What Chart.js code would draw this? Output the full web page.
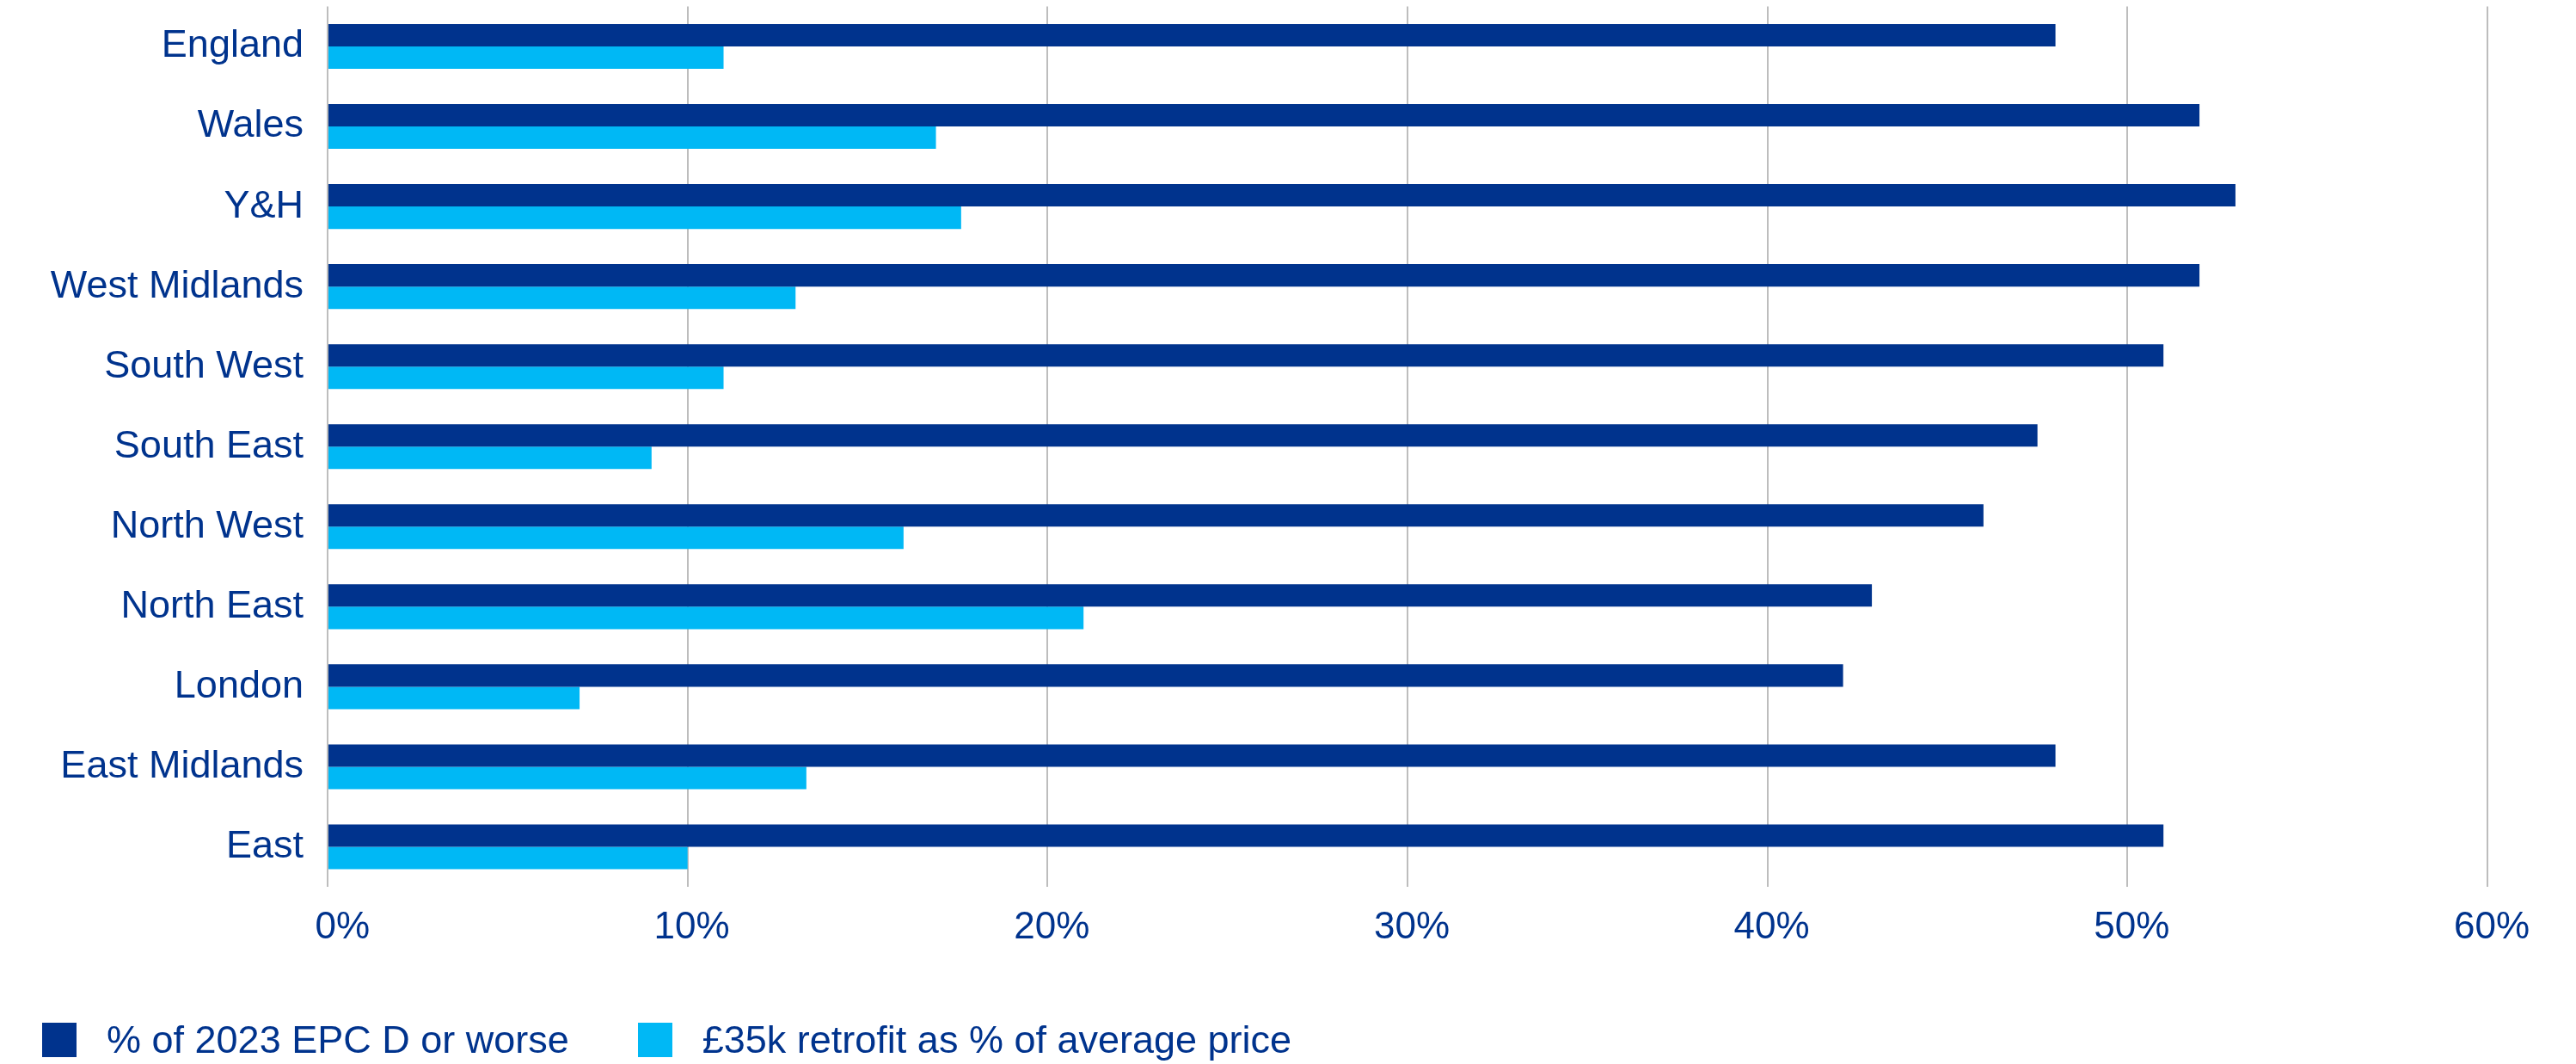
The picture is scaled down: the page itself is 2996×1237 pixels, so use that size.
<!DOCTYPE html>
<html>
<head>
<meta charset="utf-8">
<script src="https://cdn.jsdelivr.net/npm/chart.js@4.4.1/dist/chart.umd.min.js"></script>
<style>
  html, body { margin: 0; padding: 0; background: #ffffff; overflow: hidden; }
  #wrap { position: relative; width: 2996px; height: 1237px; }
  #c { position: absolute; left: 0; top: 0; }
  #legend { position: absolute; left: 49px; top: 1183px; display: flex; gap: 80px;
            font-family: 'Liberation Sans', Arial, sans-serif; font-size: 45px; color: #00338D; }
  .item { display: flex; align-items: center; }
  .sw { width: 40px; height: 40px; margin-right: 35px; }
</style>
</head>
<body>
<div id="wrap">
  <canvas id="c" width="2996" height="1237"></canvas>
  <div id="legend"></div>
</div>
<script>
const categories = ['England', 'Wales', 'Y&H', 'West Midlands', 'South West', 'South East',
                    'North West', 'North East', 'London', 'East Midlands', 'East'];
const epcDOrWorse = [48, 52, 53, 52, 51, 47.5, 46, 42.9, 42.1, 48, 51];
const retrofitShare = [11, 16.9, 17.6, 13, 11, 9, 16, 21, 7, 13.3, 10];
const seriesNames = ['% of 2023 EPC D or worse', '£35k retrofit as % of average price'];
const seriesColors = ['#00338D', '#00B8F5'];
const xTicks = [0, 10, 20, 30, 40, 50, 60];

const navy = '#00338D';
Chart.defaults.font.family = "'Liberation Sans', Arial, sans-serif";
Chart.defaults.color = navy;

new Chart(document.getElementById('c'), {
  type: 'bar',
  data: {
    labels: categories,
    datasets: [
      { label: seriesNames[0], data: epcDOrWorse, backgroundColor: seriesColors[0] },
      { label: seriesNames[1], data: retrofitShare, backgroundColor: seriesColors[1] }
    ]
  },
  options: {
    indexAxis: 'y',
    responsive: false,
    animation: false,
    devicePixelRatio: 1,
    layout: { padding: { top: 7.5, right: 103, left: 0, bottom: 0 } },
    datasets: { bar: { categoryPercentage: 0.56, barPercentage: 1.0 } },
    plugins: { legend: { display: false }, tooltip: { enabled: false } },
    scales: {
      x: {
        min: xTicks[0], max: xTicks[xTicks.length - 1],
        afterBuildTicks: (s) => { s.ticks = xTicks.map(v => ({ value: v })); },
        afterFit: (s) => { s.height = 206; s.paddingLeft = 0; s.paddingRight = 0; },
        grid: { color: '#BDBDBD', lineWidth: 2, drawTicks: false },
        border: { display: false },
        ticks: {
          callback: (v) => v + '%',
          font: { size: 44 }, color: navy, padding: 21,
          align: 'end', labelOffset: 49, maxRotation: 0, autoSkip: false
        }
      },
      y: {
        afterFit: (s) => { s.width = 381; s.paddingTop = 0; s.paddingBottom = 0; },
        grid: { display: false, drawTicks: false },
        border: { display: false },
        ticks: { font: { size: 45 }, color: navy, padding: 28, autoSkip: false }
      }
    }
  }
});

const lg = document.getElementById('legend');
seriesNames.forEach((name, i) => {
  const it = document.createElement('div'); it.className = 'item';
  const sw = document.createElement('div'); sw.className = 'sw'; sw.style.background = seriesColors[i];
  const tx = document.createElement('span'); tx.textContent = name;
  it.appendChild(sw); it.appendChild(tx); lg.appendChild(it);
});
</script>
</body>
</html>
